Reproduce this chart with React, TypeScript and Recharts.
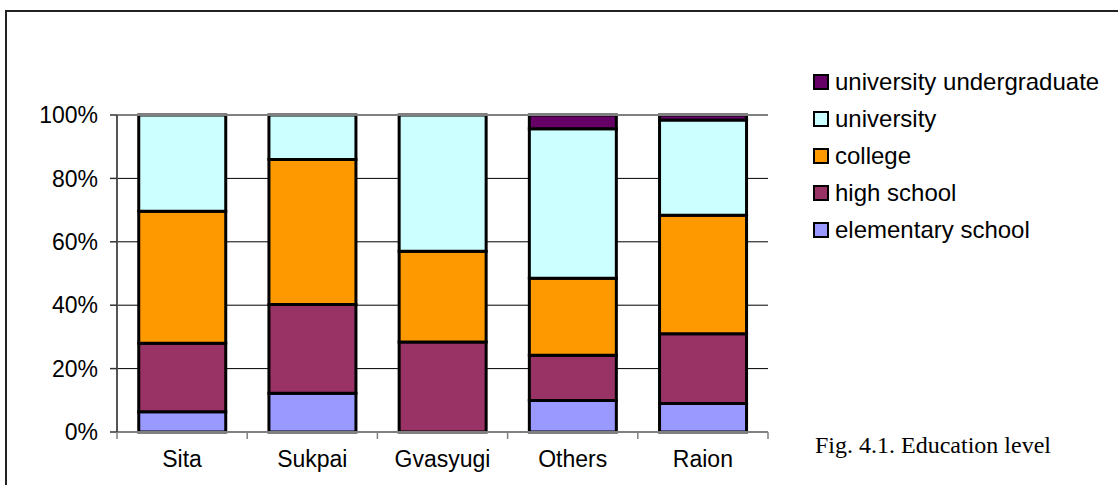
import React from 'react';
import {
  BarChart,
  Bar,
  XAxis,
  YAxis,
  CartesianGrid,
  Legend,
  ReferenceLine,
} from 'recharts';

const categories = ['Sita', 'Sukpai', 'Gvasyugi', 'Others', 'Raion'];

// shares in percent
const elementarySchool = [6.4, 12.2, 0, 9.9, 9.0];
const highSchool = [21.6, 28.0, 28.4, 14.3, 22.0];
const college = [41.6, 45.8, 28.6, 24.3, 37.4];
const university = [30.4, 14.0, 43.0, 47.2, 30.0];
const universityUndergraduate = [0, 0, 0, 4.3, 1.6];

const yTicks = [0, 20, 40, 60, 80, 100];
const gridValues = [20, 40, 60, 80];

const series = [
  { key: 'elementary', name: 'elementary school', values: elementarySchool, color: '#9999FF' },
  { key: 'high', name: 'high school', values: highSchool, color: '#993366' },
  { key: 'college', name: 'college', values: college, color: '#FF9900' },
  { key: 'university', name: 'university', values: university, color: '#CCFFFF' },
  { key: 'undergrad', name: 'university undergraduate', values: universityUndergraduate, color: '#660066' },
];

const data = categories.map((name, i) => {
  const row: Record<string, string | number> = { name };
  series.forEach(s => {
    row[s.key] = s.values[i];
  });
  return row;
});

const FONT = 'Arial, "Liberation Sans", sans-serif';
const TICK_SIZE = 7;
const TICK_MARGIN = 12;
const LEGEND_WIDTH = 300;

// category label plus tick marks on the band edges
function CategoryTick(props: any) {
  const { x, y, payload, index } = props;
  const axisY = y - TICK_SIZE - TICK_MARGIN;
  const half = payload.offset || 0;
  return (
    <g>
      <line x1={x - half} x2={x - half} y1={axisY} y2={axisY + TICK_SIZE} stroke="#808080" strokeWidth={1.5} />
      {index === categories.length - 1 && (
        <line x1={x + half} x2={x + half} y1={axisY} y2={axisY + TICK_SIZE} stroke="#808080" strokeWidth={1.5} />
      )}
      <text x={x} y={y} dy="0.71em" textAnchor="middle" fill="#000" fontSize={23} fontFamily={FONT}>
        {payload.value}
      </text>
    </g>
  );
}

// legend in reverse stacking order (top of the stack first)
function LegendList(props: any) {
  const order = (v: string) => series.findIndex(s => s.name === v);
  const items = [...(props.payload || [])].sort((a: any, b: any) => order(b.value) - order(a.value));
  return (
    <div style={{ fontFamily: FONT, fontSize: 24, color: '#000' }}>
      {items.map((item: any) => (
        <div key={item.value} style={{ display: 'flex', alignItems: 'center', height: 37, lineHeight: '37px' }}>
          <span
            style={{
              display: 'inline-block',
              width: 12,
              height: 12,
              background: item.color,
              border: '2px solid #000',
              marginRight: 6,
            }}
          />
          <span style={{ whiteSpace: 'nowrap' }}>{item.value}</span>
        </div>
      ))}
    </div>
  );
}

export default function App() {
  return (
    <div style={{ position: 'absolute', left: 0, top: 0, width: 1118, height: 485, background: '#fff', overflow: 'hidden' }}>
      <div
        style={{
          position: 'absolute',
          left: 5,
          top: 10,
          right: -10,
          bottom: -10,
          borderLeft: '2px solid #222',
          borderTop: '2px solid #222',
        }}
      />
      <BarChart
        width={1118}
        height={485}
        data={data}
        margin={{ top: 115, right: 350 - LEGEND_WIDTH, bottom: 0, left: 0 }}
        barCategoryGap="16.7%"
        style={{ position: 'absolute', left: 0, top: 0 }}
      >
        <CartesianGrid horizontal vertical={false} horizontalValues={gridValues} stroke="#000" strokeWidth={1} />
        <XAxis
          dataKey="name"
          height={53}
          tick={<CategoryTick />}
          tickLine={false}
          tickSize={TICK_SIZE}
          tickMargin={TICK_MARGIN}
          axisLine={{ stroke: '#808080', strokeWidth: 2 }}
          interval={0}
        />
        <YAxis
          width={117}
          domain={[0, 100]}
          ticks={yTicks}
          tickFormatter={(v: number) => `${v}%`}
          tick={{ fill: '#000', fontSize: 23, fontFamily: FONT }}
          tickSize={TICK_SIZE}
          tickMargin={TICK_MARGIN}
          tickLine={{ stroke: '#333', strokeWidth: 1.5 }}
          axisLine={{ stroke: '#555', strokeWidth: 2 }}
          interval={0}
        />
        <YAxis
          yAxisId="right"
          orientation="right"
          width={0}
          tick={false}
          tickLine={false}
          axisLine={{ stroke: '#808080', strokeWidth: 2 }}
        />
        <ReferenceLine y={100} stroke="#808080" strokeWidth={2} />
        <Legend
          layout="vertical"
          verticalAlign="top"
          align="right"
          content={<LegendList />}
          wrapperStyle={{ left: 813, top: 63, width: LEGEND_WIDTH }}
        />
        {series.map(s => (
          <Bar
            key={s.key}
            dataKey={s.key}
            name={s.name}
            stackId="edu"
            fill={s.color}
            stroke="#000"
            strokeWidth={3}
            isAnimationActive={false}
          />
        ))}
      </BarChart>
      <div
        style={{
          position: 'absolute',
          left: 815,
          top: 433,
          fontFamily: '"Liberation Serif", "Times New Roman", serif',
          fontSize: 24,
          lineHeight: '24px',
          color: '#000',
          whiteSpace: 'nowrap',
        }}
      >
        Fig. 4.1. Education level
      </div>
    </div>
  );
}
